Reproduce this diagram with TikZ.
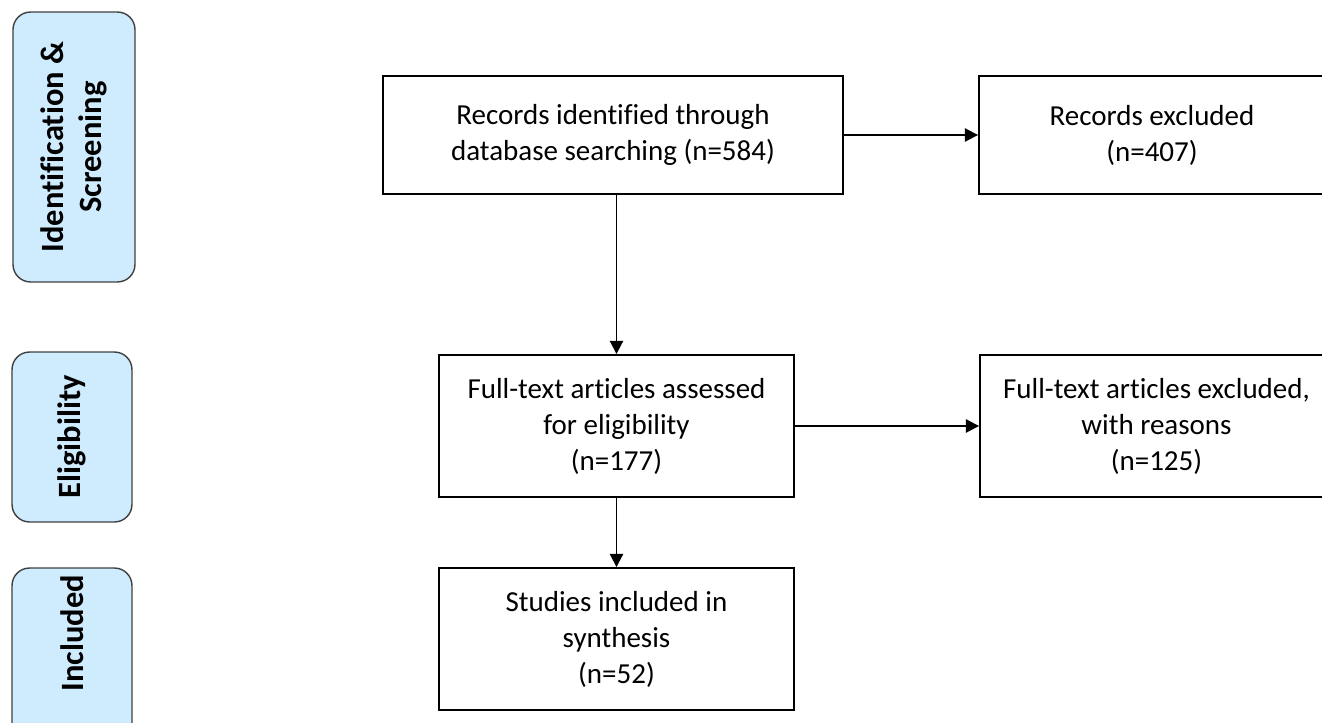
\documentclass[tikz,border=0pt]{standalone}
\usepackage{fontspec}
\setmainfont{Carlito}[Ligatures={NoCommon}]
\usetikzlibrary{arrows.meta}
\definecolor{stagefill}{RGB}{207,236,255}
\begin{document}
\begin{tikzpicture}[x=0.02cm,y=-0.02cm,
		box/.style={draw,line width=1.1pt,align=center,inner sep=0pt,font=\fontsize{16.5}{20.5}\selectfont},
		stage/.style={draw=black!75,fill=stagefill,rounded corners=10pt,line width=0.8pt,inner sep=0pt,rotate=90,align=center,font=\bfseries\fontsize{18.5}{22}\selectfont},
		arr/.style={-{Triangle[length=7.5pt,width=7.5pt]},line width=1.1pt}]
		\useasboundingbox (0,0) rectangle (1322,723);
		\clip (0,0) rectangle (1322,723);
		% stages on the left
		\node[stage,minimum width=5.4cm,minimum height=2.44cm] (ident) at (74,147) {Identification \&\\Screening};
		\node[stage,minimum width=3.4cm,minimum height=2.4cm] (elig) at (72,437) {Eligibility};
		\node[stage,minimum width=3.6cm,minimum height=2.4cm] (incl) at (72,658) {};
		\node[rotate=90,inner sep=0pt,font=\bfseries\fontsize{18.5}{22}\selectfont] (incltext) at (72,633) {Included};
		% flow boxes
		\node[box,minimum width=9.2cm,minimum height=2.36cm] (found) at (613,135) {Records identified through\\database searching (n=584)};
		\node[box,minimum width=6.92cm,minimum height=2.36cm] (excl) at (1152,135) {Records excluded\\(n=407)};
		\node[box,minimum width=7.1cm,minimum height=2.84cm] (full) at (616.5,426) {Full-text articles assessed\\for eligibility\\(n=177)};
		\node[box,minimum width=7.06cm,minimum height=2.84cm] (fullexcl) at (1156.5,426) {Full-text articles excluded,\\with reasons\\(n=125)};
		\node[box,minimum width=7.1cm,minimum height=2.84cm] (synth) at (616.5,639) {Studies included in\\synthesis\\(n=52)};
		% arrows
		\draw[arr] (found) -- (excl);
		\draw[arr] (found.south -| full.north) -- (full.north);
		\draw[arr] (full) -- (full -| fullexcl.west);
		\draw[arr] (full) -- (synth);
	\end{tikzpicture}
\end{document}
